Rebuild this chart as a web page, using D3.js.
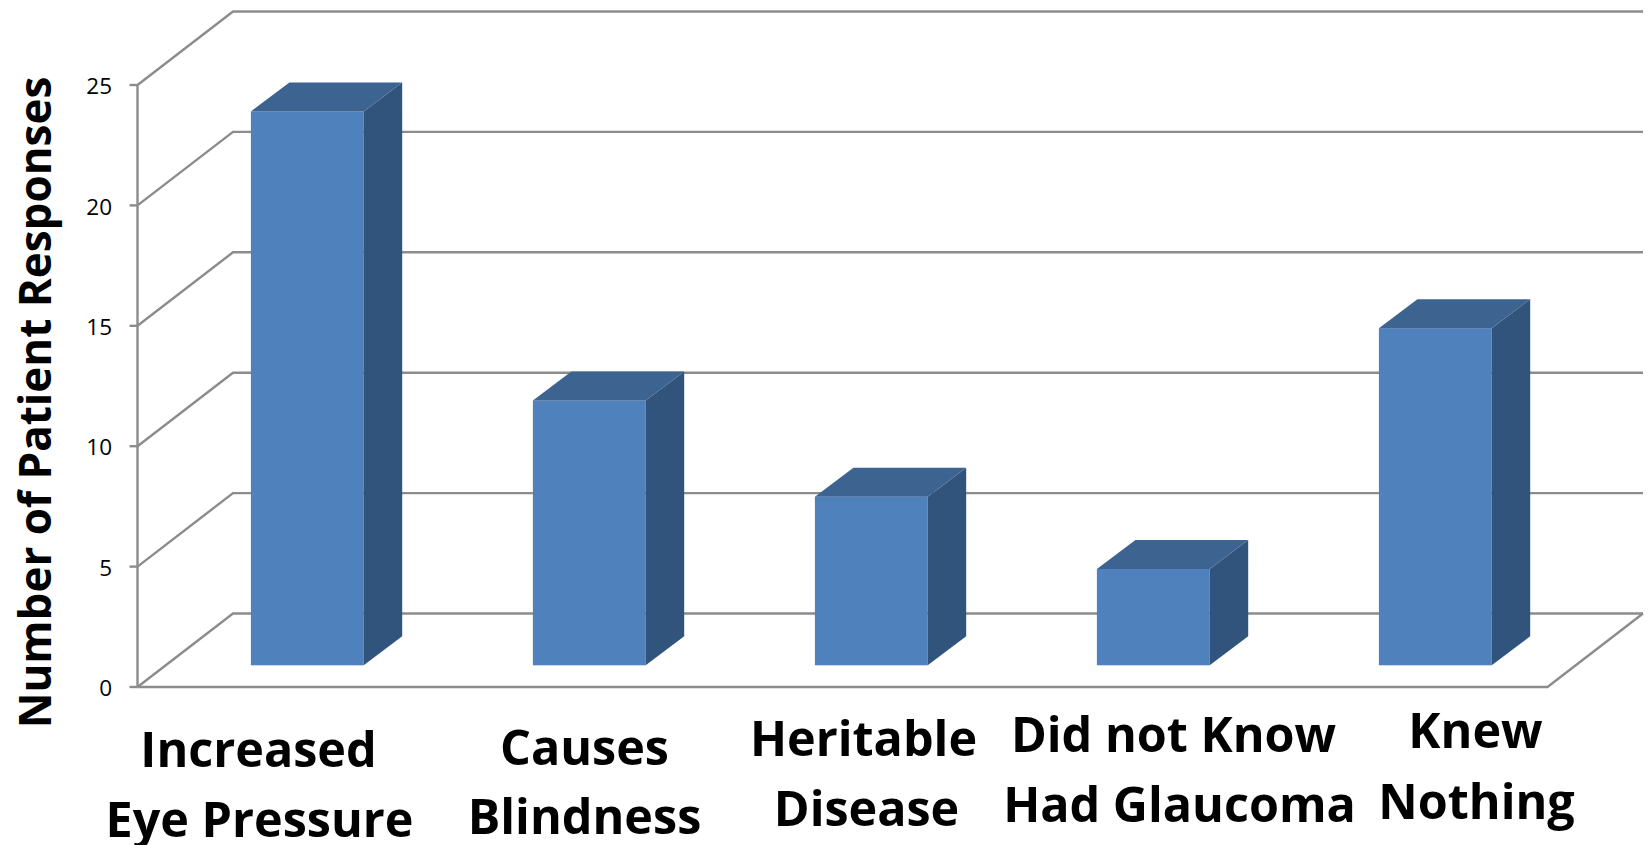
<!DOCTYPE html>
<html>
<head>
<meta charset="utf-8">
<script src="https://cdn.jsdelivr.net/npm/d3@7"></script>
<style>
html, body { margin: 0; padding: 0; background: #fff; }
svg { display: block; }
text { font-family: "Open Sans", "Noto Sans", sans-serif; fill: #000; }
</style>
</head>
<body>
<div id="chart"></div>
<script>
var categories = ["Increased Eye Pressure", "Causes Blindness", "Heritable Disease", "Did not Know Had Glaucoma", "Knew Nothing"];
var responses = [23, 11, 7, 4, 14];
var yTicks = [0, 5, 10, 15, 20, 25];
var labelLines = [["Increased", "Eye Pressure"], ["Causes", "Blindness"], ["Heritable", "Disease"], ["Did not Know", "Had Glaucoma"], ["Knew", "Nothing"]];

//COLOURS
var COLOUR_GRID = "#8c8c8c";
var COLOUR_FRONT = "#4f81bd";
var COLOUR_SIDE = "#31547c";
var COLOUR_TOP = "#3d6390";

var width = 1650;
var height = 845;

var left = 137.5;
var right = 1547.5;
var bottom = 687;
var top25 = 85;

// chart box walls are pushed back by this much
var wallDx = 95.5;
var wallDy = -73.5;
// depth of a bar and where it stands on the floor
var barDx = 38.5;
var barDy = -29;
var standDx = 28.8;
var standDy = -21.7;

// the labels were hand placed in the original: shift from band centre + baseline, per line
var labelShift = [[-20, -19], [24, 24], [21, 24], [49, 55], [69, 70]];
var labelBase = [[767, 837], [765, 834], [755.5, 826], [752, 822], [748, 819]];

var svg = d3.select("#chart").append("svg")
	.attr("width", width)
	.attr("height", height);

var x = d3.scaleBand()
	.domain(categories)
	.range([left, right])
	.paddingInner(0.6)
	.paddingOuter(0.3);

var y = d3.scaleLinear()
	.domain([0, 25])
	.range([bottom, top25]);

var grid = svg.append("g")
	.attr("fill", "none")
	.attr("stroke", COLOUR_GRID)
	.attr("stroke-width", 2.4);

// back wall lines plus the slanted part on the side wall
grid.selectAll("path.wall")
	.data(yTicks)
	.enter().append("path")
	.attr("class", "wall")
	.attr("d", function(d) {
		return "M" + left + "," + y(d) + "L" + (left + wallDx) + "," + (y(d) + wallDy) + "H" + (right + wallDx);
	});

// floor edge
grid.append("path")
	.attr("d", "M" + left + "," + y(0) + "H" + right + "L" + (right + wallDx) + "," + (y(0) + wallDy));

// axis line and ticks
grid.append("path")
	.attr("d", "M" + left + "," + y(25) + "V" + y(0));

grid.selectAll("line.tick")
	.data(yTicks)
	.enter().append("line")
	.attr("class", "tick")
	.attr("x1", left - 8)
	.attr("x2", left)
	.attr("y1", function(d) { return y(d); })
	.attr("y2", function(d) { return y(d); });

svg.selectAll("text.ytick")
	.data(yTicks)
	.enter().append("text")
	.attr("class", "ytick")
	.attr("x", 112)
	.attr("y", function(d) { return y(d) + 1; })
	.attr("dy", "0.36em")
	.attr("text-anchor", "end")
	.style("font-size", "22.5px")
	.text(function(d) { return d; });

var bars = svg.selectAll("g.bar")
	.data(categories)
	.enter().append("g")
	.attr("class", "bar")
	.attr("transform", "translate(" + standDx + "," + standDy + ")");

bars.append("rect")
	.attr("x", function(d) { return x(d); })
	.attr("y", function(d, i) { return y(responses[i]); })
	.attr("width", x.bandwidth())
	.attr("height", function(d, i) { return y(0) - y(responses[i]); })
	.attr("fill", COLOUR_FRONT);

bars.append("path")
	.attr("fill", COLOUR_SIDE)
	.attr("d", function(d, i) {
		var r = x(d) + x.bandwidth();
		return "M" + r + "," + y(responses[i]) + "l" + barDx + "," + barDy + "V" + (y(0) + barDy) + "L" + r + "," + y(0) + "Z";
	});

bars.append("path")
	.attr("fill", COLOUR_TOP)
	.attr("d", function(d, i) {
		return "M" + x(d) + "," + y(responses[i]) + "l" + barDx + "," + barDy + "h" + x.bandwidth() + "l" + (-barDx) + "," + (-barDy) + "Z";
	});

svg.append("text")
	.attr("transform", "translate(51,402.5) rotate(-90)")
	.attr("text-anchor", "middle")
	.style("font-size", "44px")
	.style("font-weight", "700")
	.text("Number of Patient Responses");

var labels = svg.selectAll("text.cat")
	.data(labelLines)
	.enter().append("text")
	.attr("class", "cat")
	.attr("text-anchor", "middle")
	.style("font-size", "48.5px")
	.style("font-weight", "700");

labels.selectAll("tspan")
	.data(function(d, i) { return d.map(function(t, k) { return { t: t, i: i, k: k }; }); })
	.enter().append("tspan")
	.attr("x", function(d) { return x(categories[d.i]) + x.bandwidth() / 2 + labelShift[d.i][d.k]; })
	.attr("y", function(d) { return labelBase[d.i][d.k]; })
	.text(function(d) { return d.t; });
</script>
</body>
</html>
